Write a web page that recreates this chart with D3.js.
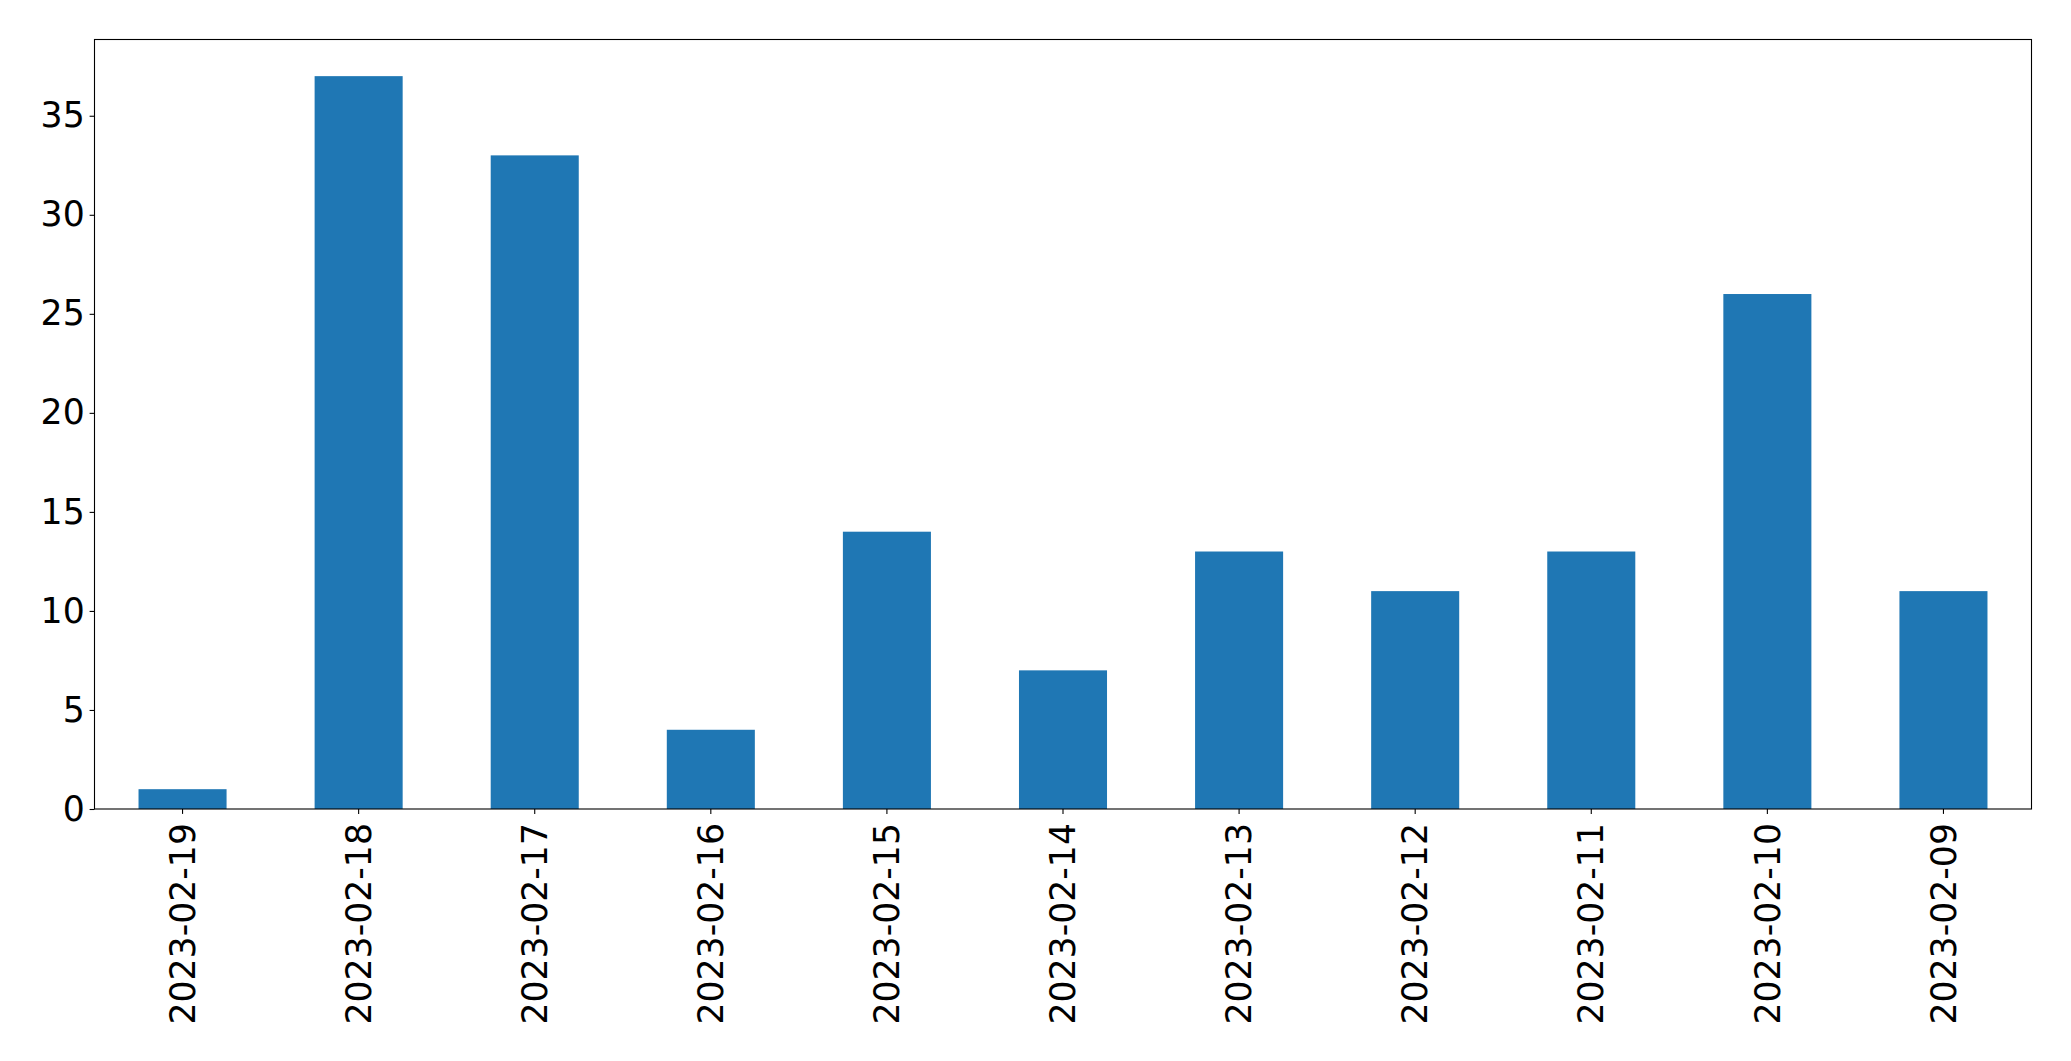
<!DOCTYPE html>
<html>
<head>
<meta charset="utf-8">
<script src="https://cdn.jsdelivr.net/npm/d3@7"></script>
<style>
  html, body { margin: 0; padding: 0; background: #fff; }
  svg { display: block; }
</style>
</head>
<body>
<svg id="chart" width="2071" height="1061"></svg>
<script>
const categories = ["2023-02-19","2023-02-18","2023-02-17","2023-02-16","2023-02-15","2023-02-14","2023-02-13","2023-02-12","2023-02-11","2023-02-10","2023-02-09"];
const values = [1, 37, 33, 4, 14, 7, 13, 11, 13, 26, 11];
const yTicks = [0, 5, 10, 15, 20, 25, 30, 35];

const W = 2071, H = 1061;
const margin = { left: 94.5, right: W - 2031.5, top: 39.5, bottom: H - 809 };
const svg = d3.select("#chart");
const iw = W - margin.left - margin.right;
const ih = H - margin.top - margin.bottom;
const g = svg.append("g").attr("transform", `translate(${margin.left},${margin.top})`);

const x = d3.scaleBand().domain(categories).range([0, iw]).paddingInner(0.5).paddingOuter(0.25);
const yMax = d3.max(values) * 1.05;
const y = d3.scaleLinear().domain([0, yMax]).range([ih, 0]);

g.selectAll("rect.bar").data(values).join("rect")
  .attr("class", "bar")
  .attr("x", (d, i) => x(categories[i]))
  .attr("width", x.bandwidth())
  .attr("y", d => y(d))
  .attr("height", d => ih - y(d))
  .attr("fill", "#1f77b4");

const fontSize = "34.7px";
const font = "'DejaVu Sans', sans-serif";

const yAxis = g.append("g")
  .call(d3.axisLeft(y).tickValues(yTicks).tickSize(4.9).tickPadding(4.9).tickFormat(d3.format("d")));
yAxis.select(".domain").remove();
yAxis.selectAll(".tick line").attr("stroke", "#000").attr("stroke-width", 1.1);
yAxis.selectAll(".tick text").attr("font-size", fontSize).attr("font-family", font).attr("fill", "#000");

const xAxis = g.append("g").attr("transform", `translate(0,${ih})`)
  .call(d3.axisBottom(x).tickSize(4.9).tickPadding(0));
xAxis.select(".domain").remove();
xAxis.selectAll(".tick line").attr("stroke", "#000").attr("stroke-width", 1.1);
xAxis.selectAll(".tick text")
  .attr("font-size", fontSize).attr("font-family", font).attr("fill", "#000")
  .attr("text-anchor", "end")
  .attr("transform", "translate(0,14) rotate(-90)")
  .attr("x", 0).attr("y", 0).attr("dy", "0.35em");

g.append("rect")
  .attr("x", 0).attr("y", 0).attr("width", iw).attr("height", ih)
  .attr("fill", "none").attr("stroke", "#000").attr("stroke-width", 1.1);
</script>
</body>
</html>
